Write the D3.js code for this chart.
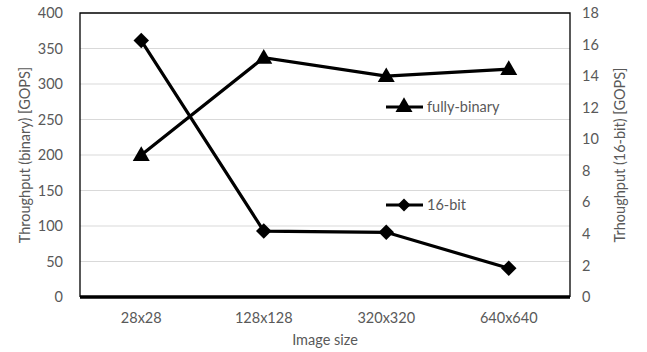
<!DOCTYPE html>
<html><head><meta charset="utf-8">
<script src="https://cdn.jsdelivr.net/npm/d3@7"></script>
<style>body{margin:0;background:#fff;} text{font-family:Lato,"Open Sans",sans-serif;}</style>
</head><body>
<svg id="c" width="647" height="352"></svg>
<script>
const categories = ["28x28","128x128","320x320","640x640"];
const binaryValues = [200, 337, 311, 321];
const bit16Values = [16.25, 4.18, 4.1, 1.82];
const leftTicks = [0,50,100,150,200,250,300,350,400];
const rightTicks = [0,2,4,6,8,10,12,14,16,18];

const svg = d3.select("#c");
const L=80, R=570, T=13, B=297;
const x = d3.scaleBand().domain(categories).range([L,R]);
const yL = d3.scaleLinear().domain([0,400]).range([B,T]);
const yR = d3.scaleLinear().domain([0,18]).range([B,T]);
const gray="#595959";
const fs="14.5px";

// gridlines
svg.append("g").selectAll("line").data(leftTicks.filter(d=>d>0&&d<400)).join("line")
  .attr("x1",L).attr("x2",R).attr("y1",d=>yL(d)).attr("y2",d=>yL(d))
  .attr("stroke","#d9d9d9").attr("stroke-width",1);

// axes
const axL = d3.axisLeft(yL).tickValues(leftTicks).tickSize(0).tickPadding(17);
const gL = svg.append("g").attr("transform",`translate(${L},0)`).call(axL);
const axR = d3.axisRight(yR).tickValues(rightTicks).tickSize(0).tickPadding(12);
const gR = svg.append("g").attr("transform",`translate(${R},0)`).call(axR);
const axB = d3.axisBottom(x).tickSize(0).tickPadding(16);
const gB = svg.append("g").attr("transform",`translate(0,${B})`).call(axB);
[gL,gR,gB].forEach(g=>{g.select(".domain").remove();
  g.selectAll("text").attr("fill",gray).style("font-size",fs).style("font-family","Lato, 'Open Sans', sans-serif");});

// border
svg.append("path").attr("d",`M${L},${B}V${T}H${R}V${B}`).attr("fill","none").attr("stroke","#000").attr("stroke-width",1.3);
svg.append("line").attr("x1",L).attr("x2",R).attr("y1",B).attr("y2",B).attr("stroke","#000").attr("stroke-width",3.5);

// titles
svg.append("text").attr("transform",`translate(30,${(T+B)/2}) rotate(-90)`).attr("text-anchor","middle")
  .attr("fill",gray).style("font-size",fs).text("Throughput (binary) [GOPS]");
svg.append("text").attr("transform",`translate(625,${(T+B)/2}) rotate(-90)`).attr("text-anchor","middle")
  .attr("fill",gray).style("font-size",fs).text("Trhoughput (16-bit) [GOPS]");
svg.append("text").attr("x",(L+R)/2).attr("y",345).attr("text-anchor","middle")
  .attr("fill",gray).style("font-size",fs).text("Image size");

const cx = d => x(d)+x.bandwidth()/2;
const tri = d3.symbol().type(d3.symbolTriangle).size(125);
const dia = d3.symbol().type(d3.symbolSquare).size(120);
const diaSmall = d3.symbol().type(d3.symbolSquare).size(85);

// fully-binary
svg.append("path").datum(categories.map((c,i)=>[cx(c),yL(binaryValues[i])]))
  .attr("d",d3.line()).attr("fill","none").attr("stroke","#000").attr("stroke-width",3.2);
svg.append("g").selectAll("path").data(categories).join("path")
  .attr("transform",(c,i)=>`translate(${cx(c)},${yL(binaryValues[i])+1})`).attr("d",tri).attr("fill","#000");

// 16-bit
svg.append("path").datum(categories.map((c,i)=>[cx(c),yR(bit16Values[i])]))
  .attr("d",d3.line()).attr("fill","none").attr("stroke","#000").attr("stroke-width",3.2);
svg.append("g").selectAll("path").data(categories).join("path")
  .attr("transform",(c,i)=>`translate(${cx(c)},${yR(bit16Values[i])}) rotate(45)`).attr("d",dia).attr("fill","#000");

// legend
function legend(y, sym, rot, label){
  svg.append("line").attr("x1",386).attr("x2",423).attr("y1",y).attr("y2",y).attr("stroke","#000").attr("stroke-width",3.2);
  svg.append("path").attr("transform",`translate(404,${y}) rotate(${rot})`).attr("d",sym).attr("fill","#000");
  svg.append("text").attr("x",427).attr("y",y+5).attr("fill",gray).style("font-size",fs).text(label);
}
legend(107, tri, 0, "fully-binary");
legend(205, diaSmall, 45, "16-bit");
</script>
</body></html>
